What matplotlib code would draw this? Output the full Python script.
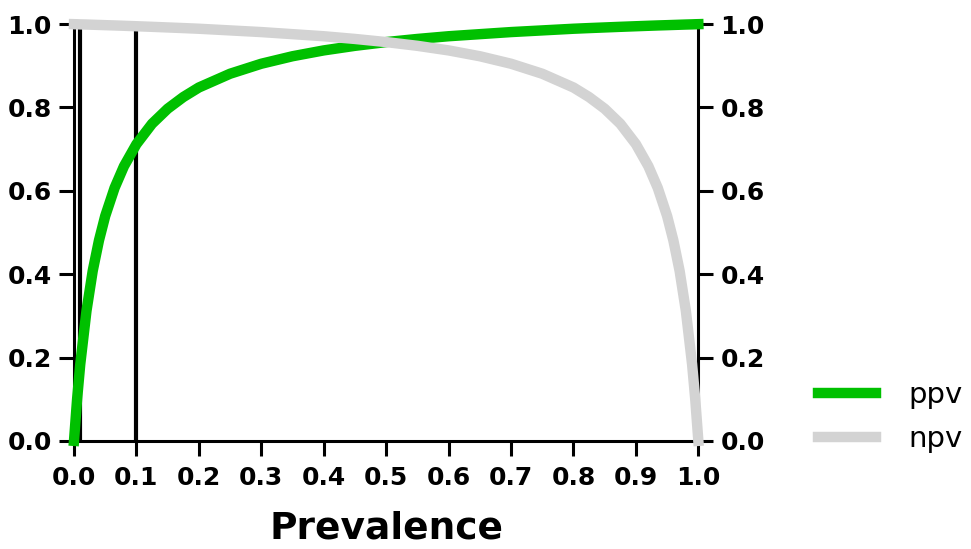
import matplotlib.pyplot as plt

prevalence = [0, 0.005, 0.01, 0.02, 0.03, 0.04, 0.05, 0.065, 0.08, 0.1,
              0.125, 0.15, 0.175, 0.2, 0.25, 0.3, 0.35, 0.4, 0.45, 0.5,
              0.55, 0.6, 0.65, 0.7, 0.75, 0.8, 0.825, 0.85, 0.875, 0.9,
              0.92, 0.935, 0.95, 0.96, 0.97, 0.98, 0.99, 0.995, 1.0]
ppv = [0.0, 0.1006, 0.1835, 0.312, 0.408, 0.481, 0.5395, 0.607, 0.659, 0.712,
       0.761, 0.797, 0.825, 0.848, 0.881, 0.905, 0.923, 0.937, 0.948, 0.957,
       0.9645, 0.971, 0.976, 0.981, 0.985, 0.989, 0.9906, 0.9921, 0.9936, 0.995,
       0.9961, 0.9969, 0.9976, 0.9981, 0.9986, 0.9991, 0.9995, 0.9998, 1.0]
npv = [1.0, 0.9998, 0.9995, 0.9991, 0.9986, 0.9981, 0.9976, 0.9969, 0.9961, 0.995,
       0.9936, 0.9921, 0.9906, 0.989, 0.985, 0.981, 0.976, 0.971, 0.9645, 0.957,
       0.948, 0.937, 0.923, 0.905, 0.881, 0.848, 0.825, 0.797, 0.761, 0.712,
       0.659, 0.607, 0.5395, 0.481, 0.408, 0.312, 0.1835, 0.1006, 0.0]
marker_prevalence = [0.01, 0.1]
xticks = [0.0, 0.1, 0.2, 0.3, 0.4, 0.5, 0.6, 0.7, 0.8, 0.9, 1.0]
yticks = [0.0, 0.2, 0.4, 0.6, 0.8, 1.0]

plt.rcParams['font.family'] = 'DejaVu Sans'

fig = plt.figure(figsize=(9.71, 5.49), dpi=100)
ax = fig.add_axes([0.0762, 0.197, 0.643, 0.759])

for xv in marker_prevalence:
    ax.plot([xv, xv], [0, 1], color='black', lw=3, zorder=2)

ax.plot(prevalence, ppv, color='#00c000', lw=7.5, label='ppv', clip_on=False, zorder=3)
ax.plot(prevalence, npv, color='#d3d3d3', lw=7.5, label='npv', clip_on=False, zorder=3)

ax.set_xlim(0, 1)
ax.set_ylim(0, 1)
ax.set_xticks(xticks)
ax.set_yticks(yticks)
ax.xaxis.set_major_formatter('{x:.1f}')
ax.yaxis.set_major_formatter('{x:.1f}')

ax.spines['top'].set_visible(False)
for s in ['left', 'right', 'bottom']:
    ax.spines[s].set_linewidth(2.2)
ax.tick_params(axis='both', direction='out', length=11, width=2.2, labelsize=18)
ax.tick_params(axis='x', pad=7)
ax.tick_params(axis='y', pad=5, right=True, labelright=True)
for t in ax.xaxis.get_major_ticks() + ax.yaxis.get_major_ticks():
    t.label1.set_fontweight('bold')
    t.label2.set_fontweight('bold')

ax.set_xlabel('Prevalence', fontsize=27, fontweight='bold', labelpad=15)

fig.legend(loc='center left', bbox_to_anchor=(0.842, 0.24), frameon=False,
           fontsize=21, handlelength=2.0, handletextpad=1.1, labelspacing=0.55,
           borderaxespad=0, borderpad=0)

fig.savefig('out.png', dpi=100)
